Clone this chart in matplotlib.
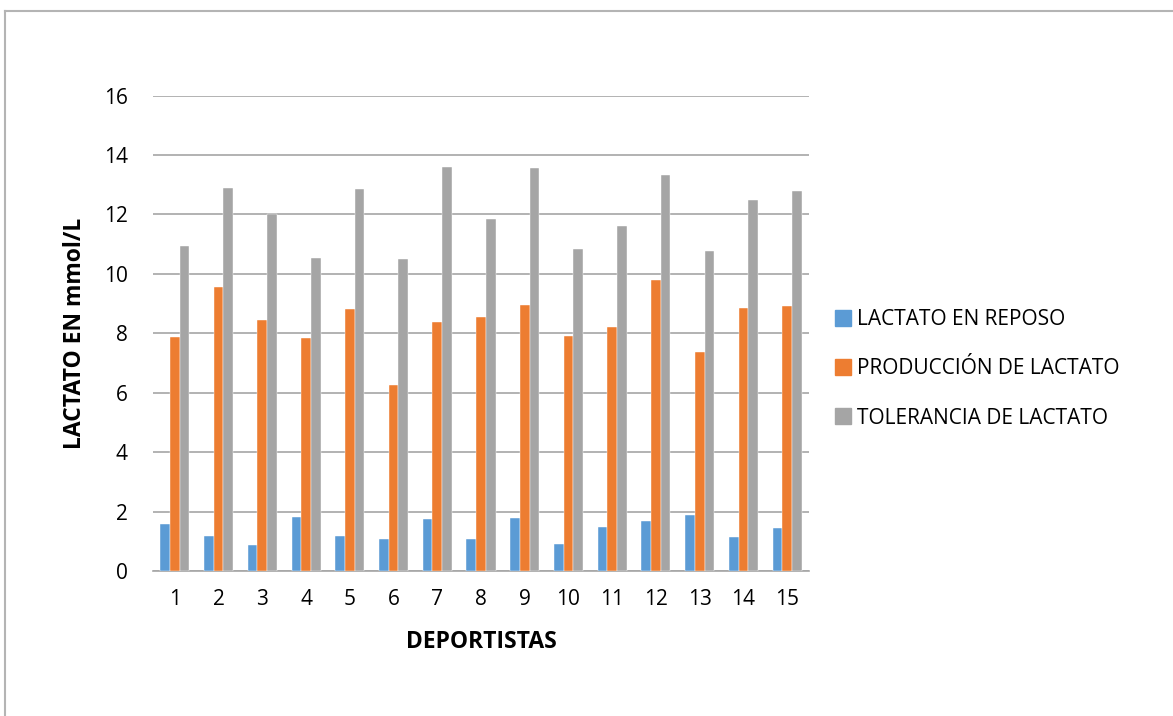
import matplotlib
matplotlib.use("Agg")
import matplotlib.pyplot as plt
from matplotlib.lines import Line2D
import numpy as np

plt.rcParams['font.family'] = ['Open Sans', 'DejaVu Sans']

categories = [str(i) for i in range(1, 16)]
reposo = [1.57, 1.19, 0.86, 1.81, 1.19, 1.07, 1.75, 1.07, 1.77, 0.92, 1.48, 1.68, 1.90, 1.16, 1.45]
produccion = [7.86, 9.54, 8.43, 7.85, 8.82, 6.25, 8.37, 8.55, 8.94, 7.91, 8.21, 9.80, 7.36, 8.84, 8.91]
tolerancia = [10.94, 12.88, 12.00, 10.52, 12.85, 10.49, 13.59, 11.86, 13.56, 10.85, 11.62, 13.32, 10.78, 12.49, 12.77]
series_names = ["LACTATO EN REPOSO", "PRODUCCIÓN DE LACTATO", "TOLERANCIA DE LACTATO"]
colors = ["#5B9BD5", "#ED7D31", "#A5A5A5"]

W, H = 1173, 716
fig = plt.figure(figsize=(W / 100, H / 100), dpi=100)
ax = fig.add_axes([153 / W, 1 - 571 / H, (809 - 153) / W, (571 - 95.5) / H])

x = np.arange(len(categories))
bw = 0.222
for i, (vals, name, c) in enumerate(zip([reposo, produccion, tolerancia], series_names, colors)):
    ax.bar(x + (i - 1) * bw, vals, width=bw, color=c, label=name, zorder=3,
           edgecolor='white', linewidth=0.3)

ax.set_xlim(-0.5, len(categories) - 0.5)
ax.set_ylim(0, 16)
ax.set_yticks(range(0, 17, 2))
ax.set_xticks(x)
ax.set_xticklabels(categories)
ax.yaxis.grid(True, color='#A6A6A6', linewidth=1.2, zorder=0)
ax.set_axisbelow(True)
for s in ['top', 'right', 'left']:
    ax.spines[s].set_visible(False)
ax.spines['bottom'].set_color('#A6A6A6')
ax.spines['bottom'].set_linewidth(1.2)
ax.tick_params(axis='both', length=0, labelsize=15, colors='black')
ax.tick_params(axis='y', pad=18)
ax.tick_params(axis='x', pad=13)

ax.set_ylabel("LACTATO EN mmol/L", fontsize=16.5, fontweight='bold', labelpad=12)
ax.set_xlabel("DEPORTISTAS", fontsize=16.5, fontweight='bold', labelpad=14)

handles = [Line2D([0], [0], marker='s', linestyle='none', markersize=11,
                  markerfacecolor=c, markeredgecolor=c) for c in colors]
fig.legend(handles, series_names, loc='center left', bbox_to_anchor=(824 / W, 1 - 369 / H),
           frameon=False, fontsize=15, handletextpad=0.2, labelspacing=1.35,
           handlelength=1.0, borderaxespad=0)

# outer chart border (top and left visible)
fig.add_artist(Line2D([5 / W, 5 / W], [0, 1 - 11 / H], transform=fig.transFigure,
                      color='#B4B4B4', linewidth=1.5))
fig.add_artist(Line2D([5 / W, 1], [1 - 11 / H, 1 - 11 / H], transform=fig.transFigure,
                      color='#B4B4B4', linewidth=1.5))

fig.savefig("out.png", dpi=100)
